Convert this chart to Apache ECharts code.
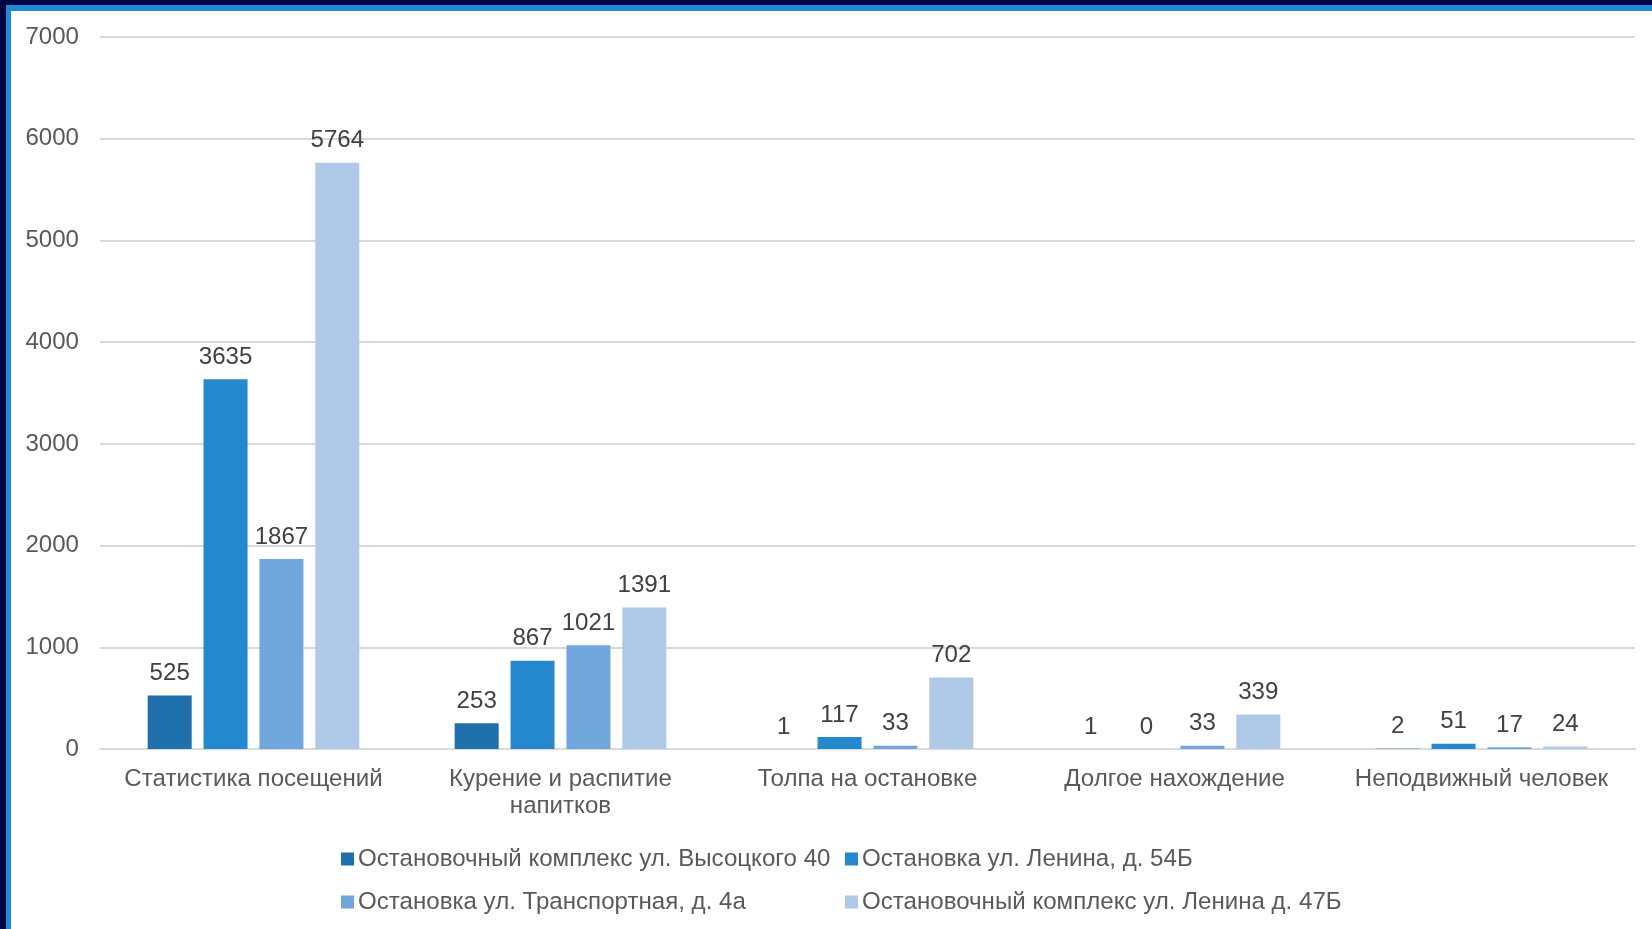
<!DOCTYPE html>
<html>
<head>
<meta charset="utf-8">
<script src="https://cdn.jsdelivr.net/npm/echarts@6/dist/echarts.min.js"></script>
<style>
html,body{margin:0;padding:0;background:#fff;overflow:hidden;}
#chart{position:absolute;left:0;top:0;width:1652px;height:929px;}
.b{position:absolute;}
</style>
</head>
<body>
<div id="chart"></div>
<div class="b" style="left:0;top:0;width:1652px;height:5px;background:#00063f;"></div>
<div class="b" style="left:0;top:5px;width:1652px;height:6px;background:#2588d4;"></div>
<div class="b" style="left:0;top:0;width:6px;height:929px;background:#00063f;"></div>
<div class="b" style="left:6px;top:5px;width:5px;height:924px;background:#2588d4;"></div>
<script>
const categories = ['Статистика посещений', 'Курение и распитие\nнапитков', 'Толпа на остановке', 'Долгое нахождение', 'Неподвижный человек'];
const seriesNames = ['Остановочный комплекс ул. Высоцкого 40', 'Остановка ул. Ленина, д. 54Б', 'Остановка ул. Транспортная, д. 4а', 'Остановочный комплекс ул. Ленина д. 47Б'];
const vysotskogo40 = [525, 253, 1, 1, 2];
const lenina54b = [3635, 867, 117, 0, 51];
const transportnaya4a = [1867, 1021, 33, 33, 17];
const lenina47b = [5764, 1391, 702, 339, 24];
const yTicks = [0, 1000, 2000, 3000, 4000, 5000, 6000, 7000];

const colors = ['#1f6faa', '#2588cd', '#70a6dc', '#b0c9e8'];
const values = [vysotskogo40, lenina54b, transportnaya4a, lenina47b];
const FONT = '"Liberation Sans", Arial, sans-serif';
const FS = 24.1;

const chart = echarts.init(document.getElementById('chart'));
chart.setOption({
  animation: false,
  backgroundColor: '#ffffff',
  textStyle: { fontFamily: FONT },
  grid: { left: 100, right: 17, top: 37, bottom: 180, containLabel: false },
  legend: [
    {
      data: [seriesNames[0], seriesNames[2]],
      orient: 'vertical', left: 336, top: 842,
      itemWidth: 13, itemHeight: 13, itemGap: 19, icon: 'rect',
      textStyle: { fontSize: FS, color: '#595959', fontFamily: FONT, padding: [0, 0, 0, -1] }
    },
    {
      data: [seriesNames[1], seriesNames[3]],
      orient: 'vertical', left: 840, top: 842,
      itemWidth: 13, itemHeight: 13, itemGap: 19, icon: 'rect',
      textStyle: { fontSize: FS, color: '#595959', fontFamily: FONT, padding: [0, 0, 0, -1] }
    }
  ],
  xAxis: {
    type: 'category',
    data: categories,
    axisLine: { lineStyle: { color: '#d9d9d9', width: 2 } },
    axisTick: { show: false },
    axisLabel: { interval: 0, fontSize: FS, color: '#595959', margin: 17, lineHeight: 27, fontFamily: FONT }
  },
  yAxis: {
    type: 'value',
    min: yTicks[0], max: yTicks[yTicks.length - 1], interval: 1000,
    axisLine: { show: false },
    axisTick: { show: false },
    splitLine: { lineStyle: { color: '#d9d9d9', width: 2 } },
    axisLabel: { fontSize: FS, color: '#595959', margin: 21, fontFamily: FONT, formatter: v => String(v) }
  },
  series: values.map((v, i) => ({
    name: seriesNames[i],
    type: 'bar',
    data: v,
    barWidth: 44,
    barGap: '27%',
    itemStyle: { color: colors[i] },
    label: { show: true, position: 'top', distance: 10, fontSize: FS, color: '#404040', fontFamily: FONT }
  }))
});
</script>
</body>
</html>
